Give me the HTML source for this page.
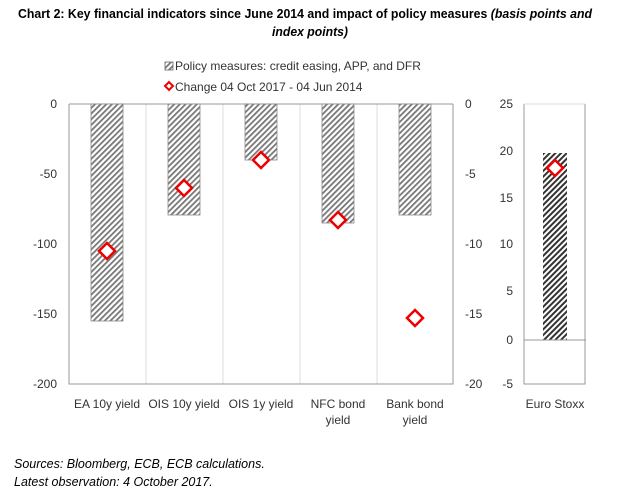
<!DOCTYPE html>
<html><head><meta charset="utf-8"><style>
body{margin:0;background:#fff;width:620px;height:502px;overflow:hidden}
svg{display:block}
</style></head><body>
<svg width="620" height="502" xmlns="http://www.w3.org/2000/svg" font-family="Liberation Sans, Arial, sans-serif">
<defs>
<pattern id="h" width="4" height="4" patternUnits="userSpaceOnUse" patternTransform="rotate(45)">
<rect width="4" height="4" fill="#fff"/><rect width="1.8" height="4" fill="#777"/></pattern>
<pattern id="h2" width="4" height="4" patternUnits="userSpaceOnUse" patternTransform="rotate(45)">
<rect width="4" height="4" fill="#fff"/><rect width="2" height="4" fill="#333"/></pattern>
</defs>
<text x="18" y="18" textLength="574" lengthAdjust="spacingAndGlyphs" font-size="13" font-weight="bold" fill="#000">Chart 2: Key financial indicators since June 2014  and impact of policy measures <tspan font-style="italic">(basis points and</tspan></text>
<text x="310" y="36" text-anchor="middle" font-size="13" font-weight="bold" font-style="italic" fill="#000" textLength="76" lengthAdjust="spacingAndGlyphs">index points)</text>
<!-- legend -->
<rect x="165" y="62" width="8" height="8" fill="url(#h)" stroke="#666" stroke-width="0.8"/>
<text x="175" y="70" font-size="12" fill="#333">Policy measures: credit easing, APP, and DFR</text>
<path d="M165 86 l4 -4 l4 4 l-4 4z" fill="#fff" stroke="#e00" stroke-width="2"/>
<text x="175" y="91" font-size="12" fill="#333">Change 04 Oct 2017 - 04 Jun 2014</text>
<g stroke="#ddd" stroke-width="1">
<line x1="146" y1="104" x2="146" y2="384"/><line x1="223" y1="104" x2="223" y2="384"/>
<line x1="300" y1="104" x2="300" y2="384"/><line x1="377" y1="104" x2="377" y2="384"/>
</g>
<path d="M69 104 V384 H453 V104" fill="none" stroke="#999" stroke-width="1"/>
<line x1="69" y1="104" x2="453" y2="104" stroke="#999"/>
<g fill="url(#h)" stroke="#888" stroke-width="0.8">
<rect x="91" y="104" width="32" height="217"/>
<rect x="168" y="104" width="32" height="111"/>
<rect x="245" y="104" width="32" height="56"/>
<rect x="322" y="104" width="32" height="119"/>
<rect x="399" y="104" width="32" height="111"/>
</g>
<g fill="#fff" stroke="#e00" stroke-width="2.5">
<path d="M107 243 l8 8 l-8 8 l-8 -8z"/>
<path d="M184 180 l8 8 l-8 8 l-8 -8z"/>
<path d="M261 152 l8 8 l-8 8 l-8 -8z"/>
<path d="M338 212 l8 8 l-8 8 l-8 -8z"/>
<path d="M415 310 l8 8 l-8 8 l-8 -8z"/>
</g>
<g font-size="12" fill="#333" text-anchor="end">
<text x="57" y="108">0</text><text x="57" y="178">-50</text><text x="57" y="248">-100</text>
<text x="57" y="318">-150</text><text x="57" y="388">-200</text>
</g>
<g font-size="12" fill="#333" text-anchor="start">
<text x="465" y="108">0</text><text x="465" y="178">-5</text><text x="465" y="248">-10</text>
<text x="465" y="318">-15</text><text x="465" y="388">-20</text>
</g>
<g font-size="12" fill="#333" text-anchor="middle">
<text x="107" y="408">EA 10y yield</text><text x="184" y="408">OIS 10y yield</text>
<text x="261" y="408">OIS 1y yield</text>
<text x="338" y="408">NFC bond</text><text x="338" y="424">yield</text>
<text x="415" y="408">Bank bond</text><text x="415" y="424">yield</text>
<text x="555" y="408">Euro Stoxx</text>
</g>
<path d="M524 104 V384 H585 V104" fill="none" stroke="#999"/>
<line x1="524" y1="104" x2="585" y2="104" stroke="#ddd"/>
<rect x="543" y="153" width="24" height="187" fill="url(#h2)"/>
<line x1="524" y1="340" x2="586" y2="340" stroke="#999"/>
<path d="M555 160 l8 8 l-8 8 l-8 -8z" fill="#fff" stroke="#e00" stroke-width="2.5"/>
<g font-size="12" fill="#333" text-anchor="end">
<text x="513" y="108">25</text><text x="513" y="155">20</text><text x="513" y="202">15</text>
<text x="513" y="248">10</text><text x="513" y="295">5</text><text x="513" y="344">0</text>
<text x="513" y="388">-5</text>
</g>
<g font-size="12.5" font-style="italic" fill="#000">
<text x="14" y="468">Sources: Bloomberg, ECB, ECB calculations.</text>
<text x="14" y="486">Latest observation: 4 October 2017.</text>
</g>
</svg>
</body></html>
